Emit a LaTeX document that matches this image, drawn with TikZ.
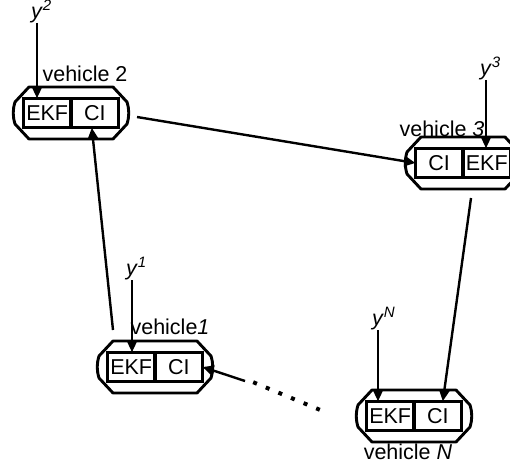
\documentclass[tikz,border=0pt]{standalone}
\usepackage{fontspec}
\setmainfont{Liberation Sans}
\usetikzlibrary{arrows.meta}
\newcommand\vehiclebox[5]{%
  \begin{scope}[shift={(#2,#3)}]
  \draw[outer] (-42,-26) -- (42,-26) -- (56,-11) to[bend left=16] (56,11) -- (42,26) -- (-42,26) -- (-56,11) to[bend left=16] (-56,-11) -- cycle;
  \node[cell, anchor=east] (#1l) at (0,0) {#4};
  \node[cell, anchor=west] (#1r) at (0,0) {#5};
  \draw[frame] (#1l.north west) rectangle (#1r.south east);
  \end{scope}}
\begin{document}
\begin{tikzpicture}[x=1pt,y=-1pt,
  every node/.style={font=\fontsize{21.5}{25}\selectfont, inner sep=0pt},
  cell/.style={draw, line width=1.6pt, minimum width=46pt, minimum height=28pt},
  frame/.style={line width=2.4pt},
  outer/.style={line width=2.9pt, line join=round},
  link/.style={line width=2.4pt, -{Triangle[length=11pt,width=10pt]}},
  meas/.style={line width=1.3pt, -{Triangle[length=10pt,width=9pt]}}]
\useasboundingbox (0,0) rectangle (510,468);
\clip (0,0) rectangle (510,468);
% vehicles
\vehiclebox{v2}{71}{113}{EKF}{CI}
\vehiclebox{v3}{463}{163}{CI}{EKF}
\vehiclebox{v1}{155}{367}{EKF}{CI}
\vehiclebox{vN}{414}{416}{EKF}{CI}
% vehicle labels
\node (lab2) at (85,74) {vehicle 2};
\node (lab3) at (442,129) {vehicle \textit{3}};
\node (lab1) at (170,327) {vehicle\textit{1}};
\node (labN) at (408,452) {vehicle \textit{N}};
% measurement labels
\node[anchor=south] (y2) at (37,23) {\textit{y}\rlap{\textsuperscript{\textit{2}}}};
\node[anchor=south] (y3) at (486,80) {\textit{y}\rlap{\textsuperscript{\textit{3}}}};
\node[anchor=south] (y1) at (132,280) {\textit{y}\rlap{\textsuperscript{\textit{1}}}};
\node[anchor=south] (yN) at (378,330) {\textit{y}\rlap{\textsuperscript{\textit{N}}}};
\draw[meas] (y2.south) -- (y2.south |- v2l.north);
\draw[meas] (y3.south) -- (y3.south |- v3r.north);
\draw[meas] (y1.south) -- (y1.south |- v1l.north);
\draw[meas] (yN.south) -- (yN.south |- vNl.north);
% links
\coordinate (s12) at (113,330);
\coordinate (s23) at (137,117);
\coordinate (s3N) at (471,198);
\coordinate (sN1) at (245,381);
\coordinate (d1) at (253.2,382.2);
\coordinate (d2) at (319.8,409.8);
\draw[link] (s12) -- ([xshift=-3pt]v2r.south);
\draw[link] (s23) -- (v3l.west);
\draw[link] (s3N) -- ([xshift=5pt]vNr.north);
\draw[link] (sN1) -- (v1r.east);
\draw[line width=4pt, dash pattern=on 4pt off 9.64pt] (d1) -- (d2);
\end{tikzpicture}
\end{document}
